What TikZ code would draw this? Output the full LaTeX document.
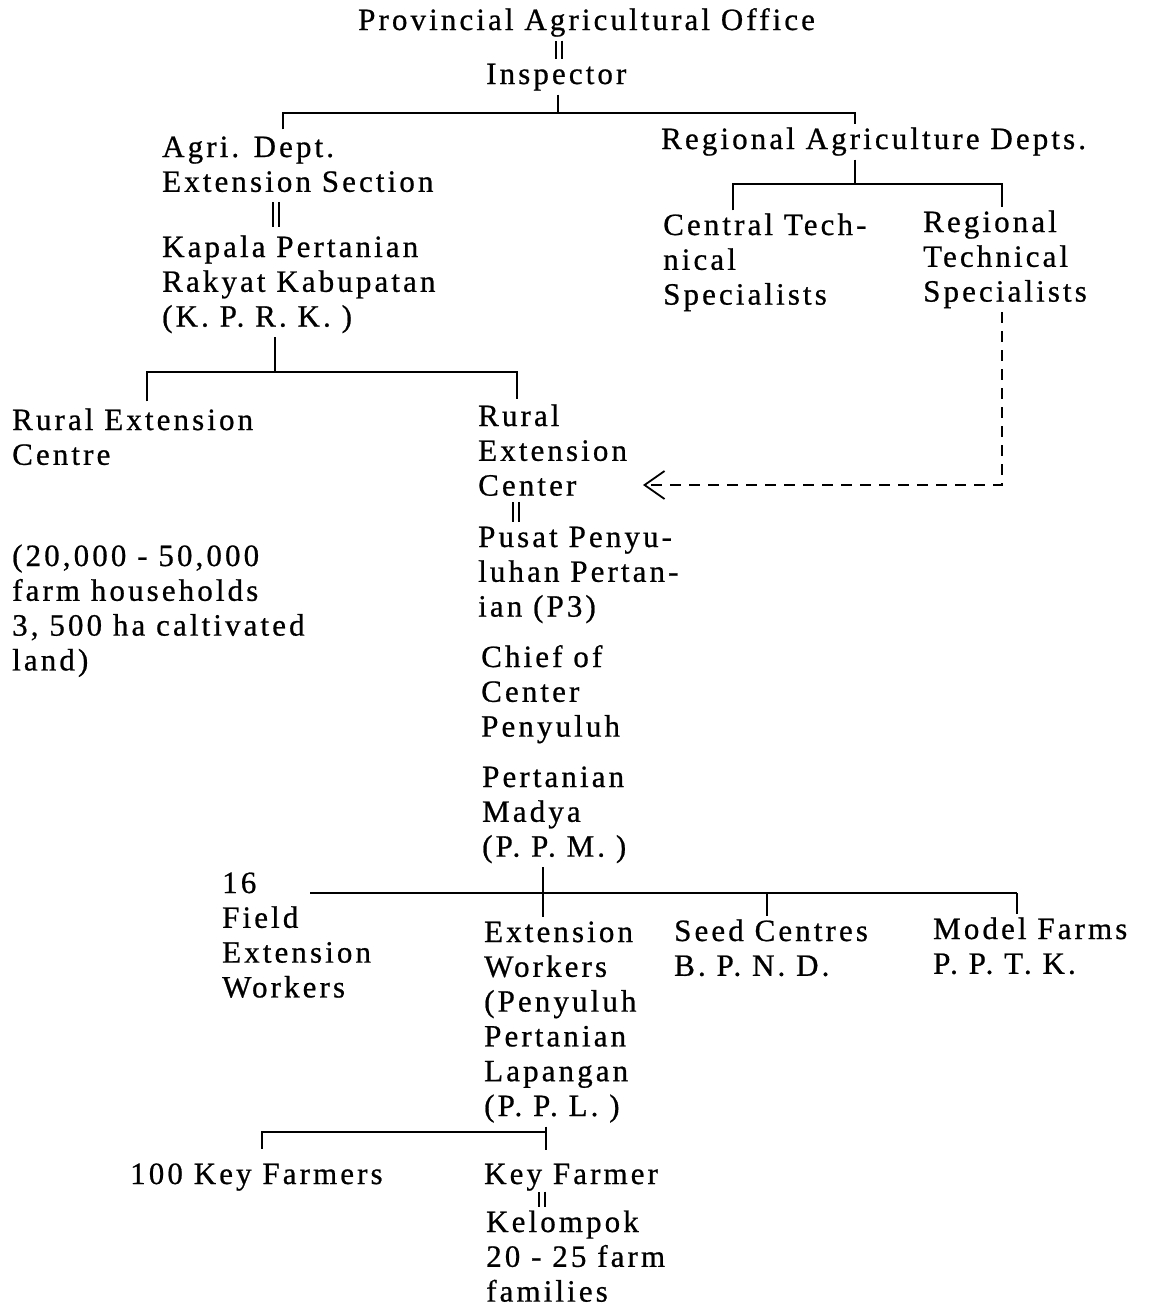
\documentclass[tikz,border=0pt]{standalone}
\usepackage{fontspec}
\setmainfont{Liberation Serif}[LetterSpace=10,FakeBold=0.7]
\usetikzlibrary{arrows.meta}
\newcommand\blk[1]{\begin{tabular}[t]{@{}l@{}}#1\end{tabular}}
\tikzset{
  lbl/.style={anchor=base west, inner sep=0pt, font=\fontsize{31}{34.8}\selectfont},
  conn/.style={line width=2.2pt},
  dbl/.style={line width=1.8pt, double distance=4pt},
  dashconn/.style={line width=1.8pt, dash pattern=on 11pt off 8pt},
  barb/.style={-{Straight Barb[length=20pt,width=28pt,line width=1.8pt]}}
}
\begin{document}
\begin{tikzpicture}[x=1pt,y=-1pt]
\useasboundingbox (0,0) rectangle (1151,1307);
\fill[white] (0,0) rectangle (1151,1307);

% text blocks
\node[lbl] (prov) at (358,30) {\blk{Provincial Agricultural Office}};
\node[lbl] (insp) at (486,84) {\blk{Inspector}};
\node[lbl] (agri) at (162,157) {\blk{Agri. Dept.\\Extension Section}};
\node[lbl] (kprk) at (162,257) {\blk{Kapala Pertanian\\Rakyat Kabupatan\\(K. P. R. K. )}};
\node[lbl] (rad) at (661,149) {\blk{Regional Agriculture Depts.}};
\node[lbl] (cts) at (663,235) {\blk{Central Tech-\\nical\\Specialists}};
\node[lbl] (rts) at (923,232) {\blk{Regional\\Technical\\Specialists}};
\node[lbl] (rec1) at (12,430) {\blk{Rural Extension\\Centre}};
\node[lbl] (stats) at (12,566) {\blk{(20,000 - 50,000\\farm households\\3, 500 ha caltivated\\land)}};
\node[lbl] (rec2) at (478,426) {\blk{Rural\\Extension\\Center}};
\node[lbl] (p3) at (478,547) {\blk{Pusat Penyu-\\luhan Pertan-\\ian (P3)}};
\node[lbl] (chief) at (481,667) {\blk{Chief of\\Center\\Penyuluh}};
\node[lbl] (ppm) at (482,787) {\blk{Pertanian\\Madya\\(P. P. M. )}};
\node[lbl] (few) at (222,893) {\blk{16\\Field\\Extension\\Workers}};
\node[lbl] (ew) at (484,942) {\blk{Extension\\Workers\\(Penyuluh\\Pertanian\\Lapangan\\(P. P. L. )}};
\node[lbl] (seed) at (674,941) {\blk{Seed Centres\\B. P. N. D.}};
\node[lbl] (model) at (933,939) {\blk{Model Farms\\P. P. T. K.}};
\node[lbl] (kf100) at (130,1184) {\blk{100 Key Farmers}};
\node[lbl] (keyf) at (484,1184) {\blk{Key Farmer}};
\node[lbl] (kel) at (486,1232) {\blk{Kelompok\\20 - 25 farm\\families}};

% junction coordinates
\coordinate (d1) at (559,0);
\coordinate (d2) at (276,0);
\coordinate (d3) at (516,0);
\coordinate (d4) at (542,0);
\coordinate (b1) at (558,113);
\coordinate (b1l) at (283,113);
\coordinate (b1r) at (855,113);
\coordinate (b2) at (855,184);
\coordinate (b2l) at (733,184);
\coordinate (b2r) at (1002,184);
\coordinate (b3) at (275,372);
\coordinate (b3l) at (147,372);
\coordinate (b3r) at (517,372);
\coordinate (dc) at (1002,485);
\coordinate (dtip) at (643,485);
\coordinate (b4) at (543,893);
\coordinate (b4l) at (310,893);
\coordinate (b4m) at (767,893);
\coordinate (b4r) at (1017,893);
\coordinate (b5) at (546,1132);
\coordinate (b5l) at (262,1132);

% equivalence marks
\draw[dbl] (d1 |- prov.south) -- (d1 |- insp.north);
\draw[dbl, shorten >=5pt] (d2 |- agri.south) -- (d2 |- kprk.north);
\draw[dbl, shorten <=-4pt] (d3 |- rec2.south) -- (d3 |- p3.north);
\draw[dbl, shorten <=-3pt] (d4 |- keyf.south) -- (d4 |- kel.north);

% hierarchy
\draw[conn] (insp.south -| b1) -- (b1);
\draw[conn, shorten <=3pt] (b1l |- agri.north) -- (b1l) -- (b1r) -- (b1r |- rad.north);
\draw[conn] (b2 |- rad.south) -- (b2);
\draw[conn] (b2l |- cts.north) -- (b2l) -- (b2r) -- (b2r |- rts.north);
\draw[conn] (b3 |- kprk.south) -- (b3);
\draw[conn, shorten <=4pt, shorten >=2pt] (b3l |- rec1.north) -- (b3l) -- (b3r) -- (b3r |- rec2.north);
\draw[dashconn, barb] (dc |- rts.south) -- (dc) -- (dtip);
\draw[conn] (b4 |- ppm.south) -- (b4 |- ew.north);
\draw[conn] (b4l) -- (b4r);
\draw[conn] (b4m) -- (b4m |- seed.north);
\draw[conn] (b4r) -- (b4r |- model.north);
\draw[conn, shorten >=9pt] (b5 |- ew.south) -- (b5 |- keyf.north);
\draw[conn, shorten >=10pt] (b5) -- (b5l) -- (b5l |- kf100.north);
\end{tikzpicture}
\end{document}
